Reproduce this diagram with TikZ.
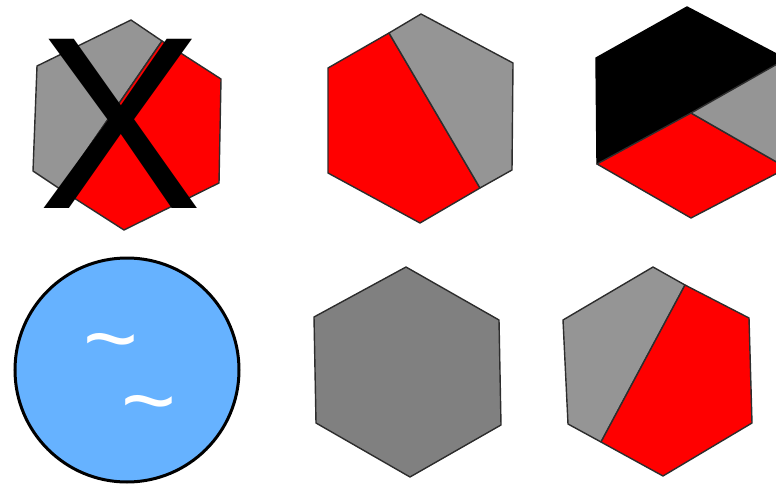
\documentclass[tikz,border=0pt]{standalone}
\usepackage{fontspec}
\setmainfont{Liberation Sans}
\usepackage{xcolor}
\usetikzlibrary{calc}

\definecolor{hexred}{RGB}{255,0,0}
\definecolor{hexgray}{RGB}{149,149,149}
\definecolor{midgray}{RGB}{128,128,128}
\definecolor{skyfill}{RGB}{102,178,255}
\definecolor{edgegray}{RGB}{45,45,45}

\begin{document}
\begin{tikzpicture}[
  x=1pt, y=-1pt,
  every node/.style={inner sep=0pt, outer sep=0pt},
  face/.style={draw=edgegray, line width=1.4pt, line join=round},
  redface/.style={face, fill=hexred},
  grayface/.style={face, fill=hexgray},
  darkface/.style={face, fill=midgray},
  blackface/.style={face, draw=black, fill=black},
  pond/.style={draw=black, line width=3pt, fill=skyfill},
  cross/.style={font=\fontsize{246}{246}\selectfont, text=black},
  tilde/.style={font=\fontsize{94}{94}\selectfont, text=white, anchor=base},
]
\useasboundingbox (0,0) rectangle (776,487);

% Top left: crossed out hexagon
\draw[grayface] (131,20) -- (162,41) -- (60,189) -- (33,171) -- (37,66) -- cycle;
\draw[redface] (162,41) -- (221,79) -- (219,183) -- (124,230) -- (60,189) -- cycle;
\node[cross] (xmark) at (121,124) {X};

% Top middle: split hexagon
\draw[redface] (389,33) -- (480,188) -- (420,223) -- (328,173) -- (328,68) -- cycle;
\draw[grayface] (421,14) -- (513,63) -- (512,170) -- (480,188) -- (389,33) -- cycle;

% Top right: cube, cut by the edge
\begin{scope}
  \clip (0,0) rectangle (776,487);
  \draw[blackface] (687,7) -- (786,59) -- (691,113) -- (597,164) -- (596,58) -- cycle;
  \draw[redface] (597,164) -- (691,113) -- (787,168) -- (691,218) -- cycle;
  \draw[grayface] (691,113) -- (786,59) -- (787,168) -- cycle;
\end{scope}

% Bottom left: circle with waves
\draw[pond] (127,370) circle[radius=112];
\node[tilde] (wave1) at (111,370) {\textasciitilde};
\node[tilde] (wave2) at (149,432) {\textasciitilde};

% Bottom middle: plain hexagon
\draw[darkface] (406,267) -- (499,320) -- (501,425) -- (410,477) -- (316,423) -- (314,317) -- cycle;

% Bottom right: split hexagon
\draw[grayface] (653,267) -- (685,285) -- (601,442) -- (568,424) -- (563,320) -- cycle;
\draw[redface] (685,285) -- (749,318) -- (752,423) -- (663,476) -- (601,442) -- cycle;

\end{tikzpicture}
\end{document}
